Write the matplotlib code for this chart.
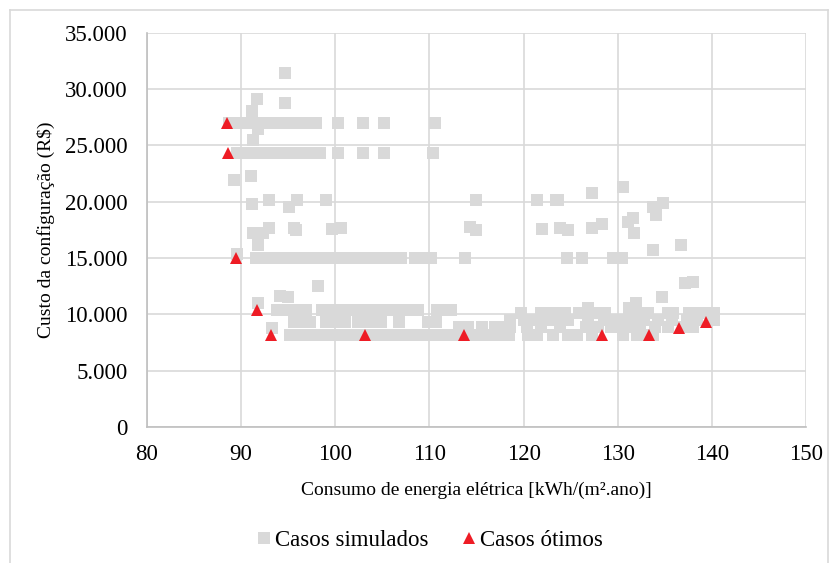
import matplotlib
matplotlib.use("Agg")
import matplotlib.pyplot as plt
from matplotlib.ticker import FuncFormatter
from matplotlib.lines import Line2D

plt.rcParams['font.family'] = ['Liberation Serif', 'DejaVu Serif']

# ---- Casos simulados (gray squares) ----
sim_x = [
    # 27.000 row
    88.7, 89.2, 90.0, 90.8, 91.6, 92.4, 93.2, 94.0, 94.8, 95.6, 96.4, 97.2, 98.0, 100.3, 102.9, 105.2, 110.6,
    # 24.300 row
    89.6, 90.4, 91.2, 92.0, 92.8, 93.6, 94.4, 95.2, 96.0, 96.8, 97.6, 98.4, 100.3, 102.9, 105.2, 110.4,
    # isolated upper left
    94.7, 91.7, 94.7, 91.2, 91.8, 91.3, 89.2, 91.1,
    # ~20.000
    93.0, 95.9, 99.0, 115.0, 121.4, 123.4, 123.7, 91.2, 95.1,
    # ~17.500
    91.3, 92.3, 93.0, 95.6, 95.8, 99.6, 100.6, 114.3, 115.0, 91.8,
    # 15.000 row
    89.6, 91.6, 92.4, 93.2, 94.0, 94.8, 95.6, 96.4, 97.1, 97.9, 98.7, 99.5, 100.3, 100.8,
    101.5, 102.3, 103.2, 103.8, 104.6, 105.4, 106.3, 107.0, 108.5, 109.3, 110.2, 113.8,
    124.6, 126.2, 129.5, 130.5,
    # 11.000 - 12.500
    98.2, 94.1, 95.0, 91.8,
    # 10.400 row
    93.8, 94.9, 96.1, 96.9, 98.6, 99.3, 99.9, 100.7, 101.5, 102.3, 103.1, 103.6, 104.0, 104.8,
    105.6, 106.4, 107.2, 107.8, 108.8, 110.8, 111.6, 112.3,
    # 9.300 row
    95.6, 96.4, 97.3, 99.0, 99.8, 101.0, 102.4, 103.2, 104.0, 104.9, 106.8, 109.8, 110.7,
    # 8.800
    93.3, 113.6,
    # 8.200 row
    95.2, 96.2, 97.0, 97.6, 98.9, 100.0, 100.8, 101.6, 102.4, 103.2, 104.0, 104.8, 105.6, 106.4,
    107.2, 108.0, 108.8, 109.6, 110.4, 111.2, 112.0, 112.8, 113.6, 114.7, 115.5, 116.3, 117.1,
    117.9, 118.5, 120.5, 121.4, 123.1, 124.7, 125.7, 127.3, 130.6, 132.1, 133.0, 133.7,
    # 8.900 row (right)
    113.1, 114.1, 115.6, 117.0, 117.6, 118.6, 120.4, 121.8, 123.9, 126.6, 127.9, 129.3, 130.3,
    131.4, 132.4, 134.0, 135.3, 137.0, 138.0,
    # 9.500 row (right)
    118.6, 120.0, 121.1, 122.0, 122.9, 123.9, 124.7, 126.8, 128.5, 129.6, 130.6, 131.6, 132.8,
    134.3, 135.8, 137.4, 138.4, 140.2,
    # 10.100 row (right)
    119.7, 121.8, 122.6, 123.5, 124.4, 125.9, 127.9, 128.7, 132.1, 133.2, 135.3, 135.9, 137.6,
    138.6, 139.6, 140.2,
    # scattered right
    126.8, 131.9, 131.2, 134.7, 137.2, 138.0,
    130.6, 127.3, 134.8, 133.8, 134.1, 131.6, 131.1, 122.0, 123.9, 124.7, 127.3, 128.3, 131.7,
    136.7, 133.7,
]
sim_y = [
    27000] * 17 + [
    24300] * 16 + [
    31400, 29100, 28800, 28100, 26500, 25500, 21900, 22300,
    20200, 20200, 20200, 20200, 20200, 20200, 20200, 19800, 19500,
    17200, 17200, 17700, 17700, 17500, 17600, 17700, 17800, 17500, 16200,
    15400] + [15000] * 29 + [
    12500, 11600, 11500, 11000] + [
    10400] * 22 + [
    9300] * 13 + [
    8800, 8900] + [
    8200] * 39 + [
    8900] * 19 + [
    9500] * 18 + [
    10100] * 16 + [
    10600, 11000, 10600, 11500, 12800, 12900,
    21300, 20800, 19900, 19500, 18800, 18600, 18200, 17600, 17700, 17500, 17700, 18000, 17200,
    16200, 15700,
]

# ---- Casos ótimos (red triangles) ----
opt_x = [88.5, 88.6, 89.5, 91.7, 93.2, 103.2, 113.7, 128.3, 133.3, 136.5, 139.4]
opt_y = [27000, 24300, 15000, 10400, 8200, 8200, 8200, 8200, 8200, 8800, 9300]

x_ticks = [80, 90, 100, 110, 120, 130, 140, 150]
y_ticks = [0, 5000, 10000, 15000, 20000, 25000, 30000, 35000]

fig = plt.figure(figsize=(8.4, 5.63), dpi=100)
ax = fig.add_axes([0.175, 0.2416, 0.7845, 0.70])

ax.plot(sim_x, sim_y, linestyle='none', marker='s', markersize=9, color='#d9d9d9',
        markeredgewidth=0, label='Casos simulados', zorder=3)
ax.plot(opt_x, opt_y, linestyle='none', marker='^', markersize=9, color='#ee1c25',
        markeredgewidth=0, label='Casos ótimos', zorder=4)

ax.set_xlim(80, 150)
ax.set_ylim(0, 35000)
ax.set_xticks(x_ticks)
ax.set_yticks(y_ticks)
ax.yaxis.set_major_formatter(FuncFormatter(lambda v, p: f"{int(v):,}".replace(",", ".")))
ax.grid(True, color='#d9d9d9', linewidth=1.2, zorder=0)
ax.set_axisbelow(True)
for s in ['top', 'right']:
    ax.spines[s].set_visible(False)
for s in ['left', 'bottom']:
    ax.spines[s].set_color('#bfbfbf')
    ax.spines[s].set_linewidth(1.2)
ax.tick_params(length=0, labelsize=16.5, colors='#000000')
ax.tick_params(axis='y', pad=14)
ax.tick_params(axis='x', pad=12)

ax.set_xlabel('Consumo de energia elétrica [kWh/(m².ano)]', fontsize=14, labelpad=12)
ax.set_ylabel('Custo da configuração (R$)', fontsize=14, labelpad=7)

handles = [
    Line2D([], [], linestyle='none', marker='s', markersize=9, color='#d9d9d9', markeredgewidth=0),
    Line2D([], [], linestyle='none', marker='^', markersize=9, color='#ee1c25', markeredgewidth=0),
]
fig.legend(handles, ['Casos simulados', 'Casos ótimos'], loc='center', bbox_to_anchor=(0.509, 0.04),
           ncol=2, frameon=False, fontsize=16.5, handletextpad=0.0, columnspacing=1.25, handlelength=1.0)

# outer border
fig.add_artist(Line2D([0.012, 0.012], [0, 0.982], transform=fig.transFigure, color='#d9d9d9', lw=1.2))
fig.add_artist(Line2D([0.012, 0.986], [0.982, 0.982], transform=fig.transFigure, color='#d9d9d9', lw=1.2))
fig.add_artist(Line2D([0.986, 0.986], [0, 0.982], transform=fig.transFigure, color='#d9d9d9', lw=1.2))

fig.savefig('out.png', dpi=100)
